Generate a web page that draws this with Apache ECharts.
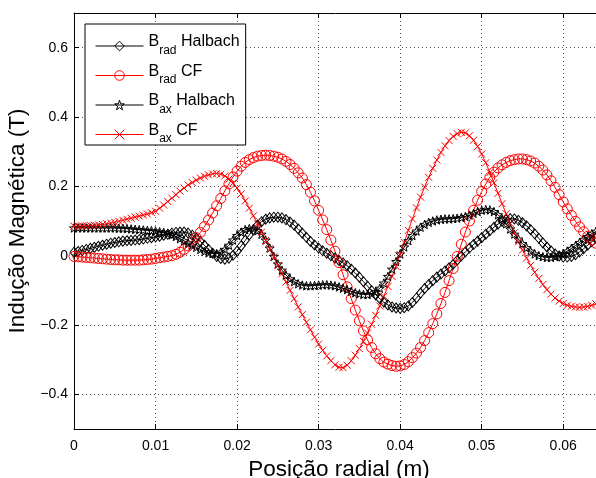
<!DOCTYPE html>
<html>
<head>
<meta charset="utf-8">
<script src="https://cdn.jsdelivr.net/npm/echarts@6/dist/echarts.min.js"></script>
<style>
html,body{margin:0;padding:0;background:#fff;}
#chart{width:596px;height:478px;}
</style>
</head>
<body>
<div id="chart"></div>
<script>
// Sample grid (radial position, m)
const xStep = 0.0005;
const nPts = 129;
const xs = Array.from({length: nPts}, (_, i) => +(i * xStep).toFixed(4));

// Series values (T) at 0.0005 m spacing
const bradHalbach = [
 0.010,0.012,0.015,0.018,0.021,0.024,0.027,0.030,0.033,0.036,
 0.038,0.040,0.042,0.043,0.044,0.045,0.046,0.048,0.050,0.052,
 0.054,0.056,0.059,0.062,0.065,0.067,0.068,0.068,0.065,0.059,
 0.051,0.041,0.030,0.018,0.007,-0.002,-0.008,-0.010,-0.007,0.001,
 0.013,0.028,0.044,0.060,0.075,0.088,0.098,0.105,0.109,0.111,
 0.111,0.109,0.104,0.097,0.088,0.077,0.065,0.053,0.041,0.031,
 0.022,0.014,0.007,0.000,-0.007,-0.014,-0.021,-0.029,-0.039,-0.050,
 -0.062,-0.075,-0.088,-0.101,-0.113,-0.124,-0.134,-0.142,-0.148,-0.151,
 -0.152,-0.150,-0.145,-0.135,-0.122,-0.108,-0.095,-0.083,-0.072,-0.062,
 -0.053,-0.044,-0.035,-0.025,-0.013,-0.001,0.011,0.022,0.032,0.042,
 0.052,0.062,0.072,0.082,0.091,0.099,0.104,0.107,0.106,0.102,
 0.095,0.086,0.075,0.063,0.050,0.037,0.025,0.014,0.005,-0.001,
 -0.004,-0.004,-0.002,0.003,0.011,0.020,0.030,0.040,0.050
];
const bradCF = [
 -0.002,-0.003,-0.004,-0.005,-0.006,-0.007,-0.008,-0.009,-0.010,-0.011,
 -0.012,-0.012,-0.013,-0.013,-0.013,-0.013,-0.013,-0.012,-0.011,-0.010,
 -0.008,-0.006,-0.004,-0.002,0.000,0.004,0.010,0.018,0.028,0.039,
 0.052,0.067,0.084,0.103,0.123,0.144,0.165,0.187,0.207,0.227,
 0.244,0.258,0.269,0.277,0.283,0.287,0.289,0.290,0.289,0.287,
 0.284,0.279,0.272,0.263,0.252,0.239,0.224,0.205,0.183,0.158,
 0.131,0.103,0.075,0.045,0.013,-0.020,-0.055,-0.090,-0.124,-0.157,
 -0.188,-0.217,-0.243,-0.265,-0.283,-0.297,-0.307,-0.313,-0.317,-0.319,
 -0.318,-0.314,-0.306,-0.294,-0.281,-0.265,-0.245,-0.222,-0.196,-0.168,
 -0.138,-0.106,-0.072,-0.037,-0.002,0.033,0.068,0.100,0.131,0.160,
 0.185,0.207,0.226,0.241,0.253,0.262,0.269,0.274,0.277,0.279,
 0.279,0.277,0.273,0.267,0.258,0.247,0.233,0.216,0.197,0.176,
 0.155,0.135,0.116,0.099,0.083,0.069,0.056,0.045,0.036
];
const baxHalbach = [
 0.080,0.080,0.080,0.080,0.080,0.080,0.080,0.080,0.080,0.080,
 0.080,0.079,0.079,0.078,0.077,0.076,0.075,0.074,0.073,0.072,
 0.071,0.069,0.067,0.064,0.060,0.055,0.049,0.043,0.036,0.030,
 0.024,0.018,0.012,0.008,0.006,0.006,0.010,0.018,0.030,0.045,
 0.058,0.068,0.075,0.078,0.077,0.072,0.062,0.045,0.022,-0.002,
 -0.024,-0.042,-0.056,-0.067,-0.075,-0.081,-0.085,-0.087,-0.087,-0.086,
 -0.085,-0.084,-0.084,-0.085,-0.087,-0.090,-0.094,-0.098,-0.103,-0.107,
 -0.110,-0.112,-0.112,-0.110,-0.104,-0.094,-0.079,-0.060,-0.039,-0.017,
 0.005,0.025,0.043,0.058,0.071,0.082,0.090,0.096,0.100,0.103,
 0.105,0.106,0.106,0.107,0.108,0.110,0.113,0.117,0.122,0.127,
 0.131,0.133,0.132,0.127,0.118,0.106,0.092,0.077,0.062,0.048,
 0.035,0.023,0.013,0.005,0.000,-0.003,-0.005,-0.005,-0.003,0.001,
 0.006,0.013,0.021,0.029,0.038,0.047,0.055,0.063,0.070
];
const baxCF = [
 0.085,0.085,0.086,0.086,0.087,0.088,0.089,0.090,0.092,0.094,
 0.096,0.099,0.102,0.105,0.108,0.111,0.114,0.117,0.120,0.124,
 0.128,0.137,0.146,0.156,0.166,0.176,0.186,0.195,0.204,0.211,
 0.218,0.224,0.229,0.233,0.236,0.237,0.235,0.230,0.221,0.209,
 0.195,0.178,0.158,0.137,0.115,0.092,0.068,0.044,0.020,-0.004,
 -0.028,-0.052,-0.076,-0.100,-0.124,-0.148,-0.170,-0.192,-0.214,-0.235,
 -0.255,-0.273,-0.289,-0.303,-0.315,-0.322,-0.323,-0.316,-0.303,-0.287,
 -0.268,-0.247,-0.223,-0.198,-0.172,-0.145,-0.117,-0.089,-0.060,-0.031,
 0.003,0.038,0.073,0.106,0.138,0.169,0.198,0.226,0.252,0.276,
 0.298,0.317,0.332,0.344,0.352,0.356,0.354,0.346,0.333,0.315,
 0.293,0.268,0.240,0.210,0.180,0.150,0.121,0.093,0.066,0.040,
 0.016,-0.007,-0.028,-0.048,-0.066,-0.083,-0.098,-0.111,-0.122,-0.131,
 -0.138,-0.143,-0.146,-0.148,-0.149,-0.148,-0.146,-0.143,-0.139
];

const seriesNames = ['Brad Halbach', 'Brad CF', 'Bax Halbach', 'Bax CF'];
const seriesColors = ['#000000', '#ff0000', '#000000', '#ff0000'];
const legendRich = {
  'Brad Halbach': '{b|B}{s|rad}{t| Halbach}',
  'Brad CF': '{b|B}{s|rad}{t| CF}',
  'Bax Halbach': '{b|B}{s|ax}{t| Halbach}',
  'Bax CF': '{b|B}{s|ax}{t| CF}'
};

const FONT = '"Liberation Sans", Arial, Helvetica, sans-serif';
const STAR = 'path://M0,-10L2.35,-3.24L9.51,-3.09L3.8,1.24L5.88,8.09L0,4L-5.88,8.09L-3.8,1.24L-9.51,-3.09L-2.35,-3.24Z';
const CROSS = 'path://M0,0L10,10M10,0L0,10';

function pairs(arr) { return xs.map((x, i) => [x, arr[i]]); }

function mkSeries(name, arr, color, symbol, size) {
  return {
    name: name, type: 'line', data: pairs(arr),
    symbol: symbol, symbolSize: size, symbolKeepAspect: true,
    showSymbol: true, showAllSymbol: true, clip: false,
    lineStyle: {color: color, width: 1},
    itemStyle: {color: 'rgba(0,0,0,0)', borderColor: color, borderWidth: 1},
    emphasis: {disabled: true}
  };
}

const minus = '\u2212';
function fmtY(v) {
  if (Math.abs(v) < 1e-9) return '0';
  const s = Math.abs(v).toFixed(1);
  return (v < 0 ? minus : '') + s;
}
function fmtX(v) {
  if (Math.abs(v) < 1e-9) return '0';
  return v.toFixed(2);
}

const axisCommon = {
  axisLine: {show: true, onZero: false, lineStyle: {color: '#000', width: 1}},
  axisTick: {show: true, inside: true, length: 5, lineStyle: {color: '#000'}},
};

const chart = echarts.init(document.getElementById('chart'), null, {renderer: 'canvas'});
chart.setOption({
  animation: false,
  backgroundColor: '#fff',
  textStyle: {fontFamily: FONT},
  grid: {left: 74, right: -8, top: 13, bottom: 49, containLabel: false, outerBoundsMode: 'none'},
  legend: {
    data: seriesNames.map((n, i) => ({
      name: n,
      itemStyle: {color: 'rgba(0,0,0,0)', borderColor: seriesColors[i], borderWidth: 1},
      lineStyle: {color: seriesColors[i], width: 1}
    })),
    orient: 'vertical',
    left: 85, top: 24,
    padding: [10, 6, 0, 10],
    itemGap: 7,
    itemWidth: 48, itemHeight: 12,
    backgroundColor: '#fff',
    borderColor: '#000', borderWidth: 1,
    selectedMode: false,
    lineStyle: {width: 1},
    formatter: n => legendRich[n],
    textStyle: {
      color: '#000', fontFamily: FONT,
      rich: {
        b: {fontSize: 16, fontFamily: FONT, color: '#000', padding: [0, 0, 8, 0]},
        s: {fontSize: 12, fontFamily: FONT, color: '#000', padding: [9, 0, 0, 0]},
        t: {fontSize: 16, fontFamily: FONT, color: '#000', padding: [0, 0, 8, 0]}
      }
    }
  },
  xAxis: [
    Object.assign({
      type: 'value', min: 0, max: 0.065, interval: 0.01, position: 'bottom',
      axisLabel: {color: '#000', fontSize: 14, margin: 10, formatter: fmtX, showMaxLabel: false, fontFamily: FONT},
      splitLine: {show: true, lineStyle: {type: [1, 3], color: '#555', width: 1}},
      name: 'Posição radial (m)', nameLocation: 'middle', nameGap: 20,
      nameTextStyle: {fontSize: 22.5, color: '#000', fontFamily: FONT}
    }, axisCommon),
    Object.assign({
      type: 'value', min: 0, max: 0.065, interval: 0.01, position: 'top',
      axisLabel: {show: false}, splitLine: {show: false}
    }, axisCommon)
  ],
  yAxis: [
    Object.assign({
      type: 'value', min: -0.5, max: 0.7, splitNumber: 6,
      axisLabel: {color: '#000', fontSize: 14, margin: 6, formatter: fmtY, showMinLabel: false, showMaxLabel: false, fontFamily: FONT},
      splitLine: {show: true, lineStyle: {type: [1, 3], color: '#555', width: 1}},
      name: 'Indução Magnética (T)', nameLocation: 'middle', nameGap: 25,
      nameTextStyle: {fontSize: 22.5, color: '#000', fontFamily: FONT}
    }, axisCommon)
  ],
  series: [
    mkSeries(seriesNames[0], bradHalbach, seriesColors[0], 'diamond', [8, 10]),
    mkSeries(seriesNames[1], bradCF, seriesColors[1], 'circle', 10),
    mkSeries(seriesNames[2], baxHalbach, seriesColors[2], STAR, 9),
    mkSeries(seriesNames[3], baxCF, seriesColors[3], CROSS, 7)
  ]
});
</script>
</body>
</html>
